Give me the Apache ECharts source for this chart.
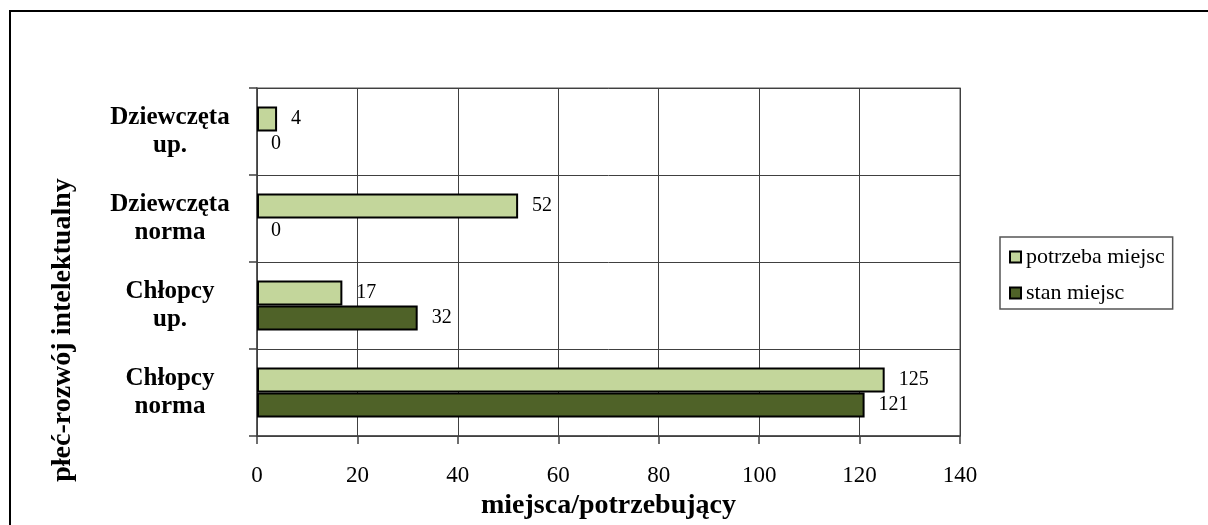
<!DOCTYPE html>
<html>
<head>
<meta charset="utf-8">
<script src="https://cdn.jsdelivr.net/npm/echarts@6/dist/echarts.min.js"></script>
<style>
html,body{margin:0;padding:0;background:#fff;}
#chart{width:1208px;height:525px;}
</style>
</head>
<body>
<div id="chart"></div>
<script>
const categories = ['Chłopcy\nnorma', 'Chłopcy\nup.', 'Dziewczęta\nnorma', 'Dziewczęta\nup.'];
const seriesNames = ['potrzeba miejsc', 'stan miejsc'];
const potrzebaMiejsc = [125, 17, 52, 4];
const stanMiejsc = [121, 32, 0, 0];
const xAxisTitle = 'miejsca/potrzebujący';
const yAxisTitle = 'płeć-rozwój intelektualny';

const FONT = '"Liberation Serif", "DejaVu Serif", serif';
const chart = echarts.init(document.getElementById('chart'), null, {renderer: 'canvas'});

const labelStyle = {
  show: true, position: 'right', distance: 14,
  color: '#000', fontFamily: FONT, fontSize: 20
};
// zero-length bars carry no visible outline
const toItems = arr => arr.map(v => v === 0 ? {value: v, itemStyle: {borderWidth: 0}} : v);

chart.setOption({
  animation: false,
  backgroundColor: '#fff',
  grid: {
    left: 257, right: 248, top: 88, bottom: 89,
    show: true, borderColor: '#8c8c8c', borderWidth: 1.5
  },
  legend: {
    orient: 'vertical',
    left: 1000, top: 237,
    data: seriesNames,
    itemWidth: 11, itemHeight: 11, itemGap: 14, itemTextGap: 5,
    padding: [9, 8, 5, 9],
    borderColor: '#555', borderWidth: 1.5,
    icon: 'rect',
    textStyle: {fontFamily: FONT, fontSize: 22, color: '#000', lineHeight: 22}
  },
  xAxis: {
    type: 'value', min: 0, max: 140, interval: 20,
    name: xAxisTitle, nameLocation: 'middle', nameGap: 52,
    nameTextStyle: {fontFamily: FONT, fontSize: 28, fontWeight: 'bold', color: '#000', lineHeight: 28},
    axisLine: {show: true, lineStyle: {color: '#404040', width: 1.5}},
    axisTick: {show: true, length: 8, lineStyle: {color: '#404040', width: 1.5}},
    axisLabel: {margin: 28, fontFamily: FONT, fontSize: 23, color: '#000'},
    splitLine: {show: true, lineStyle: {color: '#404040', width: 1}}
  },
  yAxis: {
    type: 'category', data: categories,
    axisLine: {show: true, lineStyle: {color: '#404040', width: 1.5}},
    axisTick: {show: true, length: 8, lineStyle: {color: '#404040', width: 1.5}},
    axisLabel: {margin: 87, align: 'center', fontFamily: FONT, fontSize: 25, fontWeight: 'bold', color: '#000', lineHeight: 28},
    splitLine: {show: true, lineStyle: {color: '#404040', width: 1}}
  },
  graphic: [
    {type: 'rect', silent: true, z: 100,
     shape: {x: 10, y: 11, width: 1400, height: 800},
     style: {fill: 'none', stroke: '#000', lineWidth: 2}},
    {type: 'text', silent: true, x: 63, y: 330, rotation: Math.PI / 2,
     style: {text: yAxisTitle, fontFamily: FONT, fontSize: 28, fontWeight: 'bold', fill: '#000',
             align: 'center', verticalAlign: 'middle'}}
  ],
  series: [
    {
      name: seriesNames[0], type: 'bar', data: toItems(potrzebaMiejsc),
      barGap: '0%', barCategoryGap: '42.5%',
      itemStyle: {color: '#c3d69b', borderColor: '#000', borderWidth: 2},
      label: labelStyle
    },
    {
      name: seriesNames[1], type: 'bar', data: toItems(stanMiejsc),
      barGap: '0%', barCategoryGap: '42.5%',
      itemStyle: {color: '#4f6228', borderColor: '#000', borderWidth: 2},
      label: labelStyle
    }
  ]
});
</script>
</body>
</html>
